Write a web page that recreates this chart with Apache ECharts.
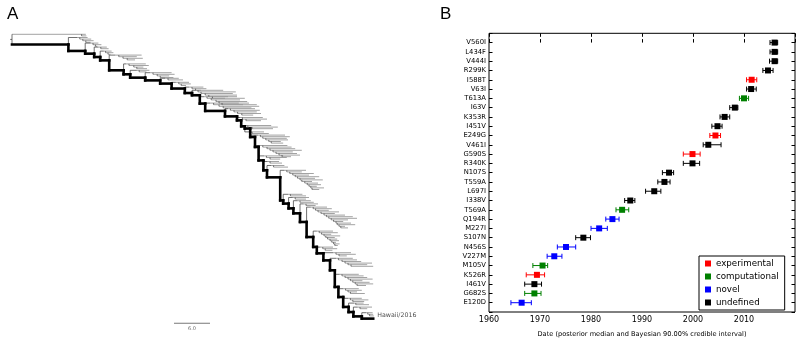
<!DOCTYPE html>
<html>
<head>
<meta charset="utf-8">
<script src="https://cdn.jsdelivr.net/npm/echarts@6/dist/echarts.min.js"></script>
<style>
  html, body { margin: 0; padding: 0; background: #fff; }
  #chart { width: 798px; height: 343px; }
</style>
</head>
<body>
<div id="chart"></div>
<script>
// ---- panel B : dated mutations ----
var mutations = ['V560I','L434F','V444I','R299K','I588T','V63I','T613A','I63V','K353R','I451V',
  'E249G','V461I','G590S','R340K','N107S','T559A','L697I','I338V','T569A','Q194R',
  'M227I','S107N','N456S','V227M','M105V','K526R','I461V','G682S','E120D'];
var median = [2016.0,2016.0,2016.0,2014.7,2011.5,2011.4,2010.0,2008.2,2006.2,2004.8,
  2004.4,2003.0,1999.9,1999.9,1995.3,1994.4,1992.4,1987.7,1986.1,1984.2,
  1981.6,1978.5,1975.1,1972.8,1970.5,1969.4,1968.9,1968.9,1966.4];
var lower = [2015.1,2015.1,2015.0,2013.7,2010.5,2010.5,2009.1,2007.2,2005.3,2003.7,
  2003.3,2002.0,1998.1,1998.1,1994.0,1993.1,1990.7,1986.6,1984.9,1982.9,
  1980.0,1977.0,1973.4,1971.4,1968.6,1967.3,1967.0,1967.0,1964.3];
var upper = [2016.6,2016.6,2016.6,2015.7,2012.5,2012.4,2010.9,2008.8,2007.2,2005.7,
  2005.4,2005.5,2001.4,2001.3,1996.2,1995.5,1993.7,1988.6,1987.4,1985.5,
  1983.2,1979.9,1977.0,1974.3,1971.5,1970.9,1970.3,1970.2,1968.3];
// 0 experimental, 1 computational, 2 novel, 3 undefined
var kind = [3,3,3,3,0,3,1,3,3,3, 0,3,0,3,3,3,3,3,1,2, 2,3,2,2,1,0,3,1,2];
var kinds = ['experimental','computational','novel','undefined'];
var kindColors = ['#ff0000','#008000','#0000ff','#000000'];
var yearMin = 1960, yearMax = 2020, yearStep = 10;

// ---- panel A : phylogeny (x in branch-length units, y in tip rows) ----
var spineX = [0, 9.4,12.2,13.7,14.7,16.2,18.6,19.7,22.2,24.7,26.6,28.8,30,31.3,32.2,35.5,37.5,38.2,38.8,39.7,
  40.5,41.1,41.9,42.5,44.7,45.2,46.1,46.9,48,49.1,50.2,50.8,51.9,53,53.8,54.4,55.2,56.1,56.9,58.3];
var spineY = [6.4, 10.4,12.1,14.2,16.3,22.5,25,27.1,28.8,30.8,33.9,36.7,38.1,43.3,47.9,51.3,53.8,57.5,58.9,64.2,
  70.4,78.8,85,89.4,103.8,105.8,108.8,111.9,117.3,126.7,132.9,136.9,141.3,147.5,157.9,164.2,170.4,173.6,176.3,177.7];
var spineEnd = 60.2;
var cladeNode = [0,1,2,3,4,5,6,7,8,9,10,11,12,13,14,15,16,17,18,19,20,21,22,23,24,25,26,27,28,29,30,31,32,33,34,35,36,37,38,39];
var cladeTop = [0,2,5.5,8,10.5,13,18.5,22.5,24,27.5,30,33,35,39,43,46.5,52,57,61,63,
  69.5,76,79.5,82,85,100,102,104,106,108,123,133,136.5,140,150,159,165,168,170.5,174];
var cladeTips = [
  [[0,12.3],[11.6,12.4]],
  [[10.9,12.6],[11.3,13.2],[11.8,13.6],[12.3,13.1]],
  [[13.1,14.4],[13.5,14.9],[13.9,14.2]],
  [[14.4,15.8],[14.8,16.1]],
  [[15.3,16.6],[15.6,16.9],[16,16.4]],
  [[17.2,21.6],[17.8,20.8],[18.5,21.8],[19.2,20.5]],
  [[19,22.3],[19.5,22.8],[20.3,21.9],[20.8,22.5]],
  [[20.8,22.9],[21.2,22.4]],
  [[23,26.6],[23.5,27.1],[24.2,26.2],[24.7,26.9]],
  [[25.5,27.8],[26,28.5]],
  [[27.3,29.5],[27.8,29.8],[28.2,29]],
  [[29.5,31.9],[30,32.4],[30.6,31.5]],
  [[30.6,35.2],[31,37.3],[31.5,36.8],[32.2,37.5],[32.8,36],[33.4,35.5]],
  [[32,37.5],[32.5,38.8],[33.2,38],[34,39.2],[34.5,37.8],[35,38.5]],
  [[33,39.5],[33.6,40.8],[34.5,41.2],[35.2,39.9]],
  [[36,40.5],[36.4,41.3],[37,40.8],[37.6,41.5],[38.3,40.2]],
  [[38,41.8],[38.4,42.5],[39,41.5]],
  [[38.8,43.2],[39.3,44.3],[40,43.5]],
  [[39.5,42],[40,42.8]],
  [[41,45.5],[41.4,46.3],[41.8,45.8],[42.3,46],[42.8,44.8],[43.2,45.2]],
  [[41.3,45.9],[41.8,46.6],[42.5,47.2],[43,48.3],[43.5,46.8],[44,47.5],[44.5,48],[45,46.5]],
  [[42,45.2],[42.4,45.8],[43,44.7]],
  [[42.6,44.5],[43,45]],
  [[43.2,45.4],[43.6,46]],
  [[45.4,49],[45.8,48.3],[46.3,50.3],[46.8,49.5],[47.2,51.2],[47.6,50.5],[48,51.8],[48.3,50],[48.8,51],[49.2,51.5],[49.5,50.8],[49.8,52],[50,51.2]],
  [[46,48.4],[46.4,49]],
  [[46.8,49.5],[47.2,49]],
  [[47.6,49.8],[48,50.3]],
  [[48.6,51],[49,50.6]],
  [[49.8,52.5],[50.2,53.3],[50.6,52.8],[51,54.5],[51.5,53.8],[52,55.5],[52.4,56.8],[52.8,57.5],[53.2,56],[53.6,55.2],[54,56.5],[54.2,57.2],[54.5,55.5],[54.8,56]],
  [[50.8,53.5],[51.2,54.3],[51.6,53.2],[52,54.7],[52.3,53.8],[52.6,54.2],[53,54.5],[53.3,54],[53.6,54.6],[53.8,54.3]],
  [[51.4,53.5],[51.8,54.2],[52.2,53.4]],
  [[53.5,56.5],[54,57.3],[54.5,55.8]],
  [[54,56.8],[54.4,57.5],[55,58.2],[55.5,60],[56,59.2],[56.5,60.2]],
  [[54.6,57.8],[55,58.6],[55.5,59.2],[56,60.1],[56.4,58.4],[56.8,59.6],[57.2,60.2],[57.5,59]],
  [[55.2,57.8],[55.6,58.3],[56,57.5],[56.4,58.8]],
  [[56,58.3],[56.4,59.4],[56.8,58.7]],
  [[57,58.6],[57.3,59.5]],
  [[57.6,60],[58,59.2]],
  [[59,60.1],[59.3,60.2],[59.6,60.3]]
];
var tipName = 'Hawaii/2016';
var tipNamePos = [60.7, 175.6];
var scaleBar = [27, 33];
var scaleRow = 180.6;
var scaleText = '6.0';

// ---- build tree segments: [x1, y1, x2, y2, class] ; 0 tip, 1 inner, 2 backbone, 3 scale ----
var segs = [];
segs.push([-0.3, 3.2, 0, 3.2, 1]);
var lastX = 0, lastY = spineY[0];
for (var i = 1; i < spineX.length; i++) {
  segs.push([lastX, lastY, spineX[i], lastY, 2]);
  segs.push([spineX[i], lastY, spineX[i], spineY[i], 2]);
  lastX = spineX[i]; lastY = spineY[i];
}
segs.push([lastX, lastY, spineEnd, lastY, 2]);

for (var c = 0; c < cladeTips.length; c++) {
  var nodeIdx = cladeNode[c];
  var nodeX = spineX[nodeIdx];
  var fromRow = nodeIdx === 0 ? spineY[0] : spineY[nodeIdx - 1];
  var tipSet = cladeTips[c];
  var rowTop = cladeTop[c];
  segs.push([nodeX, fromRow, nodeX, rowTop, 1]);
  segs.push([nodeX, rowTop, tipSet[0][0], rowTop, 1]);
  for (var k = 0; k < tipSet.length; k++) {
    if (k > 0) segs.push([tipSet[k][0], rowTop + k - 1, tipSet[k][0], rowTop + k, 1]);
    segs.push([tipSet[k][0], rowTop + k, tipSet[k][1], rowTop + k, 0]);
  }
}
segs.push([scaleBar[0], scaleRow, scaleBar[1], scaleRow, 3]);
segs.sort(function (a, b) { return a[4] - b[4]; });

var segColor = ['#999', '#333', '#000', '#777'];
var segWidth = [0.9, 0.7, 2.6, 1.2];

// ---- panel B series ----
var barData = [];
for (var j = 0; j < mutations.length; j++) {
  barData.push([lower[j], upper[j], j, kind[j]]);
}
var kindSeries = kinds.map(function (label, ki) {
  var pts = [];
  for (var j = 0; j < mutations.length; j++) {
    if (kind[j] === ki) pts.push([median[j], j]);
  }
  return {
    name: label, type: 'scatter', xAxisIndex: 1, yAxisIndex: 1,
    symbol: 'rect', symbolSize: 6, data: pts, z: 5,
    itemStyle: { color: kindColors[ki], opacity: 1 }
  };
});

var font = 'DejaVu Sans';
var tickIn = { inside: true, length: 3.5, lineStyle: { color: '#000' } };
var chart = echarts.init(document.getElementById('chart'));
chart.setOption({
  animation: false,
  textStyle: { fontFamily: font },
  title: [
    { text: 'A', left: 2, top: 1, textStyle: { fontSize: 17, fontWeight: 'normal', fontFamily: 'Liberation Sans', color: '#000' } },
    { text: 'B', left: 435, top: 1, textStyle: { fontSize: 17, fontWeight: 'normal', fontFamily: 'Liberation Sans', color: '#000' } }
  ],
  legend: {
    data: kinds,
    orient: 'vertical',
    left: 699, top: 256,
    padding: [3, 6, 3, 6],
    itemGap: 4, itemWidth: 6, itemHeight: 6,
    icon: 'rect',
    borderColor: '#000', borderWidth: 1,
    textStyle: { fontSize: 8.7, color: '#000', fontFamily: font }
  },
  grid: [
    { left: 6, width: 372, top: 34.3, height: 304 },
    { left: 489, right: 2, top: 33.3, bottom: 24.2, show: true, borderColor: '#000', borderWidth: 1, backgroundColor: 'transparent' }
  ],
  xAxis: [
    { gridIndex: 0, type: 'value', min: -1, max: 61, show: false },
    { gridIndex: 1, type: 'value', min: yearMin, max: yearMax, interval: yearStep,
      axisLine: { show: false },
      axisTick: tickIn,
      axisLabel: { fontSize: 8, color: '#000', margin: 4,
        formatter: function (v) { return v === yearMax ? '' : String(v); } },
      splitLine: { show: false },
      name: 'Date (posterior median and Bayesian 90.00% credible interval)',
      nameLocation: 'middle', nameGap: 19,
      nameTextStyle: { fontSize: 6.6, color: '#000' } },
    { gridIndex: 1, type: 'value', min: yearMin, max: yearMax, interval: yearStep, position: 'top',
      axisLine: { show: false, onZero: false },
      axisTick: tickIn,
      axisLabel: { show: false }, splitLine: { show: false } }
  ],
  yAxis: [
    { gridIndex: 0, type: 'value', min: 0, max: 190, inverse: true, show: false },
    { gridIndex: 1, type: 'value', min: -1, max: 29, interval: 1, inverse: true,
      axisLine: { show: false, onZero: false },
      axisTick: tickIn,
      axisLabel: { fontSize: 6.8, color: '#000', margin: 3,
        formatter: function (v) { return mutations[v] || ''; } },
      splitLine: { show: false } },
    { gridIndex: 1, type: 'value', min: -1, max: 29, interval: 1, inverse: true, position: 'right',
      axisLine: { show: false, onZero: false },
      axisTick: tickIn,
      axisLabel: { show: false }, splitLine: { show: false } }
  ],
  series: [
    { type: 'custom', xAxisIndex: 0, yAxisIndex: 0, silent: true,
      encode: { x: [0, 2], y: [1, 3] },
      data: segs,
      renderItem: function (params, api) {
        var a = api.coord([api.value(0), api.value(1)]);
        var b = api.coord([api.value(2), api.value(3)]);
        var cl = api.value(4);
        return { type: 'line', shape: { x1: a[0], y1: a[1], x2: b[0], y2: b[1] },
          style: { stroke: segColor[cl], lineWidth: segWidth[cl], lineCap: cl === 2 ? 'square' : 'butt' } };
      } },
    { type: 'scatter', xAxisIndex: 0, yAxisIndex: 0, symbolSize: 0, silent: true,
      data: [{ value: tipNamePos, label: { formatter: tipName, position: 'right', distance: 1, fontSize: 6.3, color: '#222' } },
             { value: [(scaleBar[0] + scaleBar[1]) / 2, scaleRow], label: { formatter: scaleText, position: 'bottom', distance: 3, fontSize: 5, color: '#444' } }],
      label: { show: true } },
    { type: 'custom', xAxisIndex: 1, yAxisIndex: 1, silent: true, z: 3,
      encode: { x: [0, 1], y: 2 },
      data: barData,
      renderItem: function (params, api) {
        var row = api.value(2);
        var a = api.coord([api.value(0), row]);
        var b = api.coord([api.value(1), row]);
        var col = kindColors[api.value(3)];
        var h = 2.5;
        return { type: 'group', children: [
          { type: 'line', shape: { x1: a[0], y1: a[1], x2: b[0], y2: b[1] }, style: { stroke: col, lineWidth: 1 } },
          { type: 'line', shape: { x1: a[0], y1: a[1] - h, x2: a[0], y2: a[1] + h }, style: { stroke: col, lineWidth: 1 } },
          { type: 'line', shape: { x1: b[0], y1: b[1] - h, x2: b[0], y2: b[1] + h }, style: { stroke: col, lineWidth: 1 } }
        ] };
      } }
  ].concat(kindSeries)
});
</script>
</body>
</html>
